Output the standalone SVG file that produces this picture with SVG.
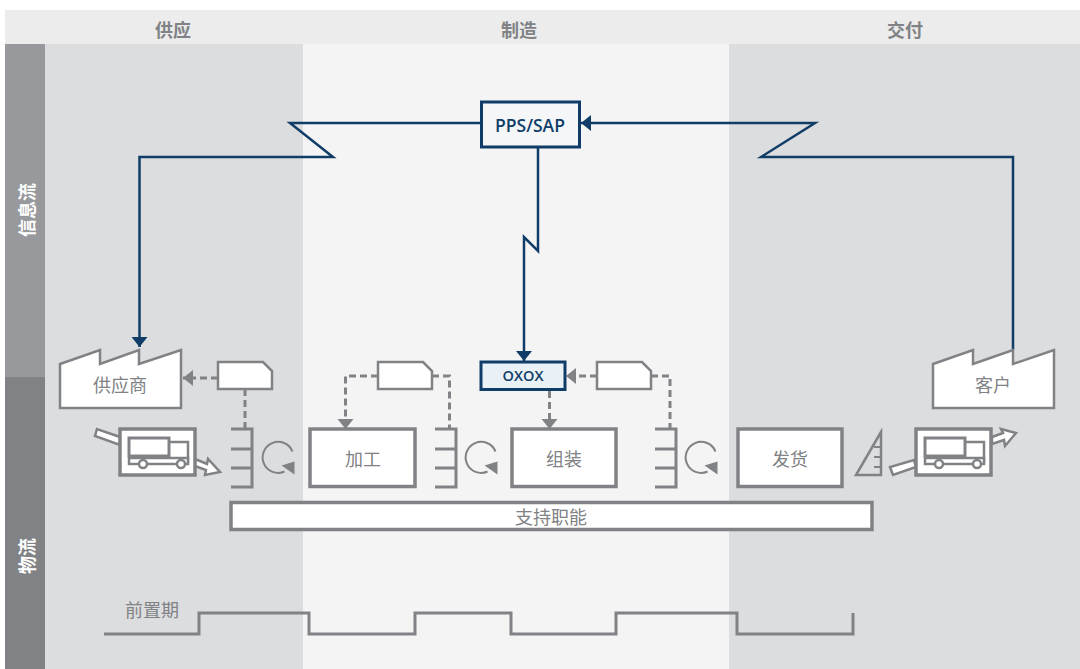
<svg xmlns="http://www.w3.org/2000/svg" xmlns:xlink="http://www.w3.org/1999/xlink" width="1080" height="669" viewBox="0 0 1080 669">
<style>
text{font-family:"Noto Sans CJK SC","Liberation Sans",sans-serif;text-anchor:middle;dominant-baseline:central}
.hd{font-size:18px;font-weight:700;fill:#808285}
.sd{font-size:18px;font-weight:700;fill:#fff}
.lb{font-size:18px;fill:#808285}
.nv{font-family:"Open Sans","Liberation Sans",sans-serif;font-weight:600;fill:#0f3d68}
.box{fill:#fff;stroke:#808285;stroke-width:3.500}
.thin{fill:#fff;stroke:#808285;stroke-width:2.500}
.nbox{stroke:#0f3d68;stroke-width:3}
.navy{fill:none;stroke:#0f3d68;stroke-width:2.500}
.dash{fill:none;stroke:#808285;stroke-width:3;stroke-dasharray:7 4}
.ln{fill:none;stroke:#808285;stroke-width:3}
.ah{fill:#808285}
</style>
<defs>
<marker id="an" markerUnits="userSpaceOnUse" markerWidth="12" markerHeight="18" refX="10" refY="8" orient="auto"><path d="M0 0L10 8L0 16Z" fill="#0f3d68"/></marker>
<marker id="ag" markerUnits="userSpaceOnUse" markerWidth="12" markerHeight="18" refX="10" refY="8" orient="auto"><path d="M0 0L10 8L0 16Z" class="ah"/></marker>
<g id="truck">
<rect x="0" y="0" width="75" height="46" fill="#fff" stroke="#808285" stroke-width="3.500"/>
<rect x="9" y="9" width="40" height="18" fill="#fff" stroke="#808285" stroke-width="3"/>
<path d="M49 13H68V34" fill="none" stroke="#808285" stroke-width="2.500"/>
<rect x="9" y="29" width="59" height="6" fill="#fff" stroke="#808285" stroke-width="2.500"/>
<circle cx="23" cy="35" r="4" fill="#fff" stroke="#808285" stroke-width="2.500"/>
<circle cx="61" cy="35" r="4" fill="#fff" stroke="#808285" stroke-width="2.500"/>
</g>
<g id="comb"><path d="M-21 0H0V58H-21M-21 20H0M-21 39H0" fill="none" stroke="#808285" stroke-width="3"/></g>
<g id="cycle"><path d="M15 -6A15.500 15.500 0 1 0 7 14" fill="none" stroke="#808285" stroke-width="2"/><path d="M17 4L4 8L17 17Z" class="ah"/></g>
<path id="doc" d="M0 0H45L54 9V27H0Z"/>
</defs>

<g id="background">
<rect x="5" y="10" width="1075" height="34" fill="#ececec"/>
<rect x="45" y="44" width="258" height="625" fill="#dcddde"/>
<rect x="303" y="44" width="426" height="625" fill="#f4f4f4"/>
<rect x="729" y="44" width="351" height="625" fill="#dcddde"/>
<rect x="5" y="44" width="40" height="333" fill="#97999c"/>
<rect x="5" y="377" width="40" height="292" fill="#808285"/>
<text class="hd" x="173" y="29">供应</text>
<text class="hd" x="519" y="29">制造</text>
<text class="hd" x="905" y="29">交付</text>
<text class="sd" transform="translate(26 210) rotate(-90)">信息流</text>
<text class="sd" transform="translate(26 556) rotate(-90)">物流</text>
</g>

<g id="connectors">
<path class="navy" d="M481 123H290L333 157H139.500V347" marker-end="url(#an)"/>
<path class="navy" d="M1013 350V157H761L815 123H581" marker-end="url(#an)"/>
<path class="navy" d="M538 147V251L524 237V361" marker-end="url(#an)"/>
<path class="dash" d="M218 378H183" marker-end="url(#ag)"/>
<path class="dash" d="M245 389V429"/>
<path class="dash" d="M378 376H345.500V429" marker-end="url(#ag)"/>
<path class="dash" d="M432 376H449.500V429"/>
<path class="dash" d="M549.500 391V429" marker-end="url(#ag)"/>
<path class="dash" d="M597 376H566" marker-end="url(#ag)"/>
<path class="dash" d="M651 376H670V429"/>
</g>

<g id="pps"><rect class="nbox" x="481.500" y="102" width="98" height="45" fill="#f4f6f8"/><text class="nv" x="530" y="125" font-size="17.500">PPS/SAP</text></g>
<g id="oxox"><rect class="nbox" x="481" y="362" width="84" height="27.500" fill="#eaf1f6"/><text class="nv" x="523" y="375" font-size="14.500">OXOX</text></g>

<g id="supplier"><path class="thin" d="M60 364L100 350V364L139 350V364L181 350V408H60Z"/><text class="lb" x="120" y="384">供应商</text></g>
<g id="customer"><path class="thin" d="M933 364L973 350V364L1013 350V364L1054 350V408H933Z"/><text class="lb" x="993" y="384">客户</text></g>

<g id="doc1"><use xlink:href="#doc" href="#doc" x="218" y="362" class="thin"/></g>
<g id="doc2"><use xlink:href="#doc" href="#doc" x="378" y="362" class="thin"/></g>
<g id="doc3"><use xlink:href="#doc" href="#doc" x="597" y="362" class="thin"/></g>

<g id="truck-in">
<path class="thin" d="M97 429L95 436L120 445V437Z"/>
<path class="thin" d="M195 459L207 464L208 459L220 472L205 475L206 470L195 466Z"/>
<use xlink:href="#truck" href="#truck" x="120" y="429"/>
</g>
<g id="truck-out">
<path class="thin" d="M890 467L893 475L916 467L914 460Z"/>
<path class="thin" d="M992 437L1003 433L1001 429L1016 433L1005 446L1004 440L992 444Z"/>
<use xlink:href="#truck" href="#truck" x="916" y="429"/>
</g>

<g id="inventory1"><use xlink:href="#comb" href="#comb" x="252" y="429"/><use xlink:href="#cycle" href="#cycle" x="277.500" y="457.500"/></g>
<g id="inventory2"><use xlink:href="#comb" href="#comb" x="456" y="429"/><use xlink:href="#cycle" href="#cycle" x="480.500" y="457.500"/></g>
<g id="inventory3"><use xlink:href="#comb" href="#comb" x="676" y="429"/><use xlink:href="#cycle" href="#cycle" x="700.500" y="457.500"/></g>

<g id="process1"><rect class="box" x="310" y="429" width="105" height="57.500"/><text class="lb" x="363" y="458">加工</text></g>
<g id="process2"><rect class="box" x="512" y="429" width="104" height="57.500"/><text class="lb" x="564" y="458">组装</text></g>
<g id="process3"><rect class="box" x="738" y="429" width="104" height="57.500"/><text class="lb" x="790" y="458">发货</text></g>

<g id="triangle"><path d="M881 432V475H856Z" fill="none" stroke="#808285" stroke-width="2.500"/><path d="M874 447H881M874 457H881M874 467H881" class="ln" style="stroke-width:2"/></g>

<g id="support"><rect class="box" x="231" y="502.500" width="641" height="27"/><text x="551" y="515.500" class="lb">支持职能</text></g>

<g id="leadtime"><path class="ln" d="M104 634H199V613H309V634H415V613H511V634H616V613H737V634H853V613"/><text class="lb" x="152" y="609">前置期</text></g>
</svg>
